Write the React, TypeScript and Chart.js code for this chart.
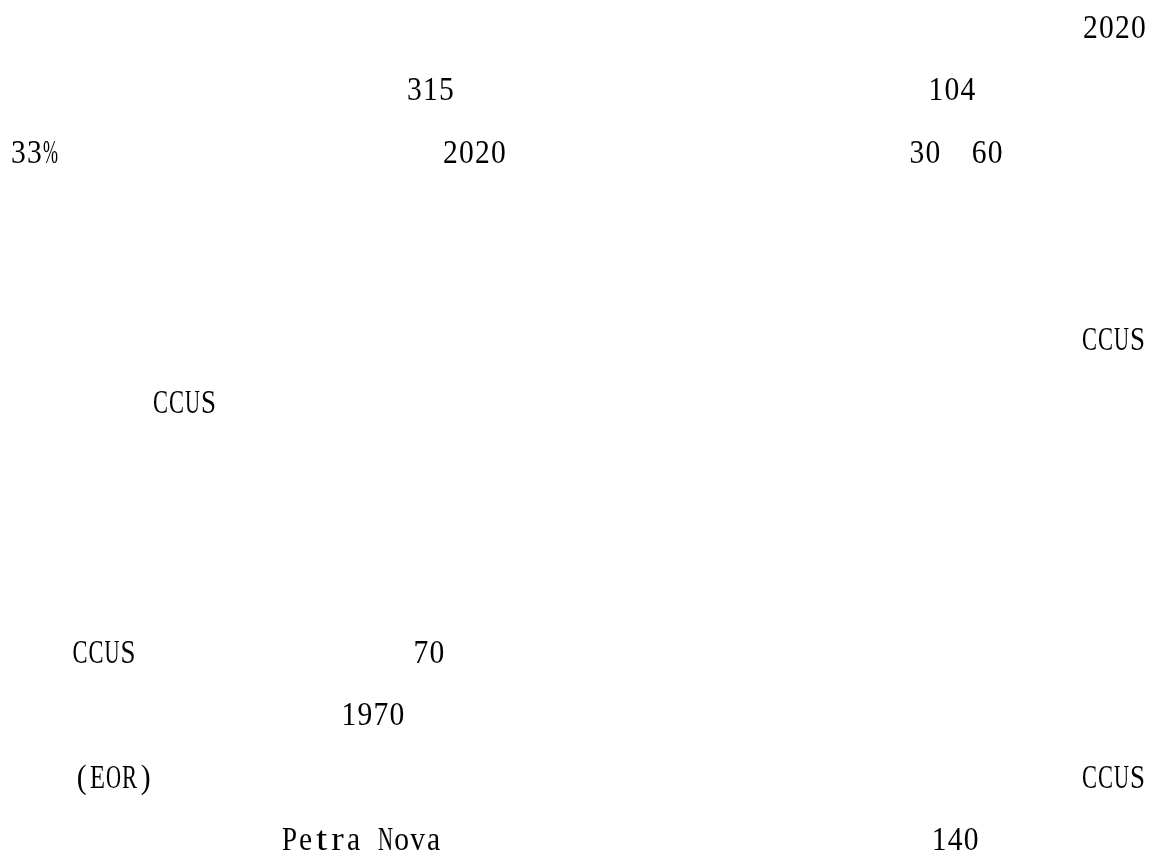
import React, { useEffect, useRef } from "react";
import { Chart, registerables } from "chart.js";

Chart.register(...registerables);

// Visible text fragments of the page (the rest of the line text is blank in the reference)
const tokens = [
  "2020",
  "315", "104",
  "33%", "2020", "30", "60",
  "CCUS",
  "CCUS",
  "CCUS", "70",
  "1970",
  "(EOR)", "CCUS",
  "Petra Nova", "140",
];
// Half-width character column where each fragment starts
const columns = [
  67.15,
  24.9, 57.5,
  0.15, 27.15, 56.3, 60.2,
  67.1,
  9.03,
  4.0, 25.3,
  20.8,
  4.1, 67.1,
  17.1, 57.7,
];
// Text line index of each fragment
const rows = [
  0,
  1, 1,
  2, 2, 2, 2,
  5,
  6,
  10, 10,
  11,
  12, 12,
  13, 13,
];

const columnRange = [-0.5, 71.625];
const rowRange = [-0.608, 13.144];

const W = 1154;
const H = 859;

const textPlugin = {
  id: "pageText",
  afterDatasetsDraw(chart: any) {
    const ctx = chart.ctx as CanvasRenderingContext2D;
    const xs = chart.scales.x;
    const meta = chart.getDatasetMeta(0);
    ctx.save();
    ctx.fillStyle = "#000000";
    ctx.font = '34px "Liberation Serif", "Times New Roman", serif';
    ctx.textBaseline = "alphabetic";
    ctx.textAlign = "center";
    meta.data.forEach((pt: any, i: number) => {
      const text = tokens[i];
      const col = columns[i];
      const y = pt.y;
      for (let k = 0; k < text.length; k++) {
        const ch = text[k];
        if (ch === " ") continue;
        const left = xs.getPixelForValue(col + k);
        const right = xs.getPixelForValue(col + k + 1);
        const cx = (left + right) / 2;
        const w = Math.max(ctx.measureText(ch).width, 1);
        const isLower = ch >= "a" && ch <= "z";
        let sx = Math.min(0.87, 15 / w);
        if (isLower) sx = Math.max(0.87, Math.min(1.2, 12.5 / w));
        ctx.save();
        ctx.translate(cx, y);
        ctx.scale(sx, 1);
        ctx.fillText(ch, 0, 0);
        ctx.restore();
      }
    });
    ctx.restore();
  },
};

export default function App() {
  const canvasRef = useRef<HTMLCanvasElement | null>(null);

  useEffect(() => {
    const canvas = canvasRef.current;
    if (!canvas) return;
    const points = tokens.map((_, i) => ({ x: columns[i], y: rows[i] }));
    const chart = new Chart(canvas, {
      type: "scatter",
      data: {
        datasets: [
          {
            label: "text",
            data: points,
            pointRadius: 0,
            pointHoverRadius: 0,
            showLine: false,
          },
        ],
      },
      options: {
        responsive: false,
        animation: false,
        events: [],
        layout: { padding: 0 },
        plugins: {
          legend: { display: false },
          tooltip: { enabled: false },
          title: { display: false },
        },
        scales: {
          x: {
            type: "linear",
            display: false,
            min: columnRange[0],
            max: columnRange[1],
          },
          y: {
            type: "linear",
            display: false,
            reverse: true,
            min: rowRange[0],
            max: rowRange[1],
          },
        },
      },
      plugins: [textPlugin],
    });
    return () => chart.destroy();
  }, []);

  return (
    <div
      style={{
        position: "absolute",
        left: 0,
        top: 0,
        width: W,
        height: H,
        background: "#ffffff",
      }}
    >
      <canvas
        ref={canvasRef}
        width={W}
        height={H}
        style={{ display: "block", width: W, height: H }}
      />
    </div>
  );
}
